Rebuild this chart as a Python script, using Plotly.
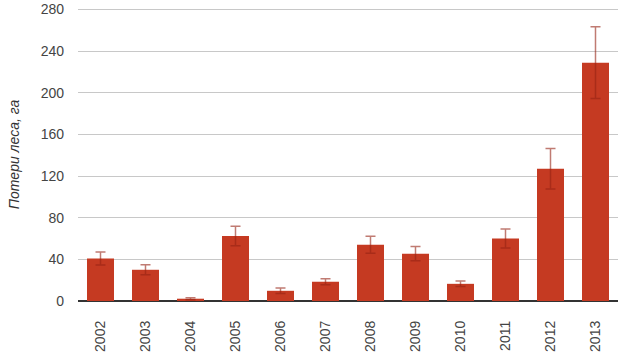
import plotly.graph_objects as go

years = ["2002", "2003", "2004", "2005", "2006", "2007", "2008", "2009", "2010", "2011", "2012", "2013"]
loss = [40.8, 30.0, 2.2, 62.5, 9.8, 18.5, 54.0, 45.5, 16.5, 60.0, 127.0, 229.0]
err = [6.3, 4.8, 1.0, 9.4, 2.7, 2.9, 8.2, 6.8, 2.6, 9.1, 19.5, 34.5]
y_ticks = [0, 40, 80, 120, 160, 200, 240, 280]

fig = go.Figure(go.Bar(
    x=years, y=loss,
    marker=dict(color="#C53A22", line=dict(width=0)),
    error_y=dict(type="data", array=err, visible=True,
                 color="rgba(150,35,20,0.6)", thickness=1.5, width=5),
))

fig.update_layout(
    width=628, height=357,
    margin=dict(l=78, r=10, t=8, b=56),
    plot_bgcolor="white", paper_bgcolor="white",
    bargap=0.4,
    showlegend=False,
    font=dict(family="Liberation Sans, Arial, sans-serif", size=14, color="#444"),
)
fig.update_xaxes(
    type="category", tickangle=-90, showgrid=False, automargin=False,
    showline=False, ticks="", tickfont=dict(size=14, color="#444"),
    ticklabelstandoff=16,
)
fig.update_yaxes(
    range=[0, 281.5], tickvals=y_ticks, showgrid=True, gridcolor="#c8c8c8", gridwidth=1,
    zeroline=True, zerolinecolor="#333", zerolinewidth=1.5, automargin=False,
    ticks="", tickfont=dict(size=14, color="#444"), ticklabelstandoff=13,
    ticklabeloverflow="allow",
    title=dict(text="<i>Потери леса, га</i>", font=dict(size=14, color="#333"), standoff=17),
)

fig.write_html(
    "out.html",
    config={"displayModeBar": False},
    post_script="document.body.style.margin='0';document.body.style.overflow='hidden';",
)
